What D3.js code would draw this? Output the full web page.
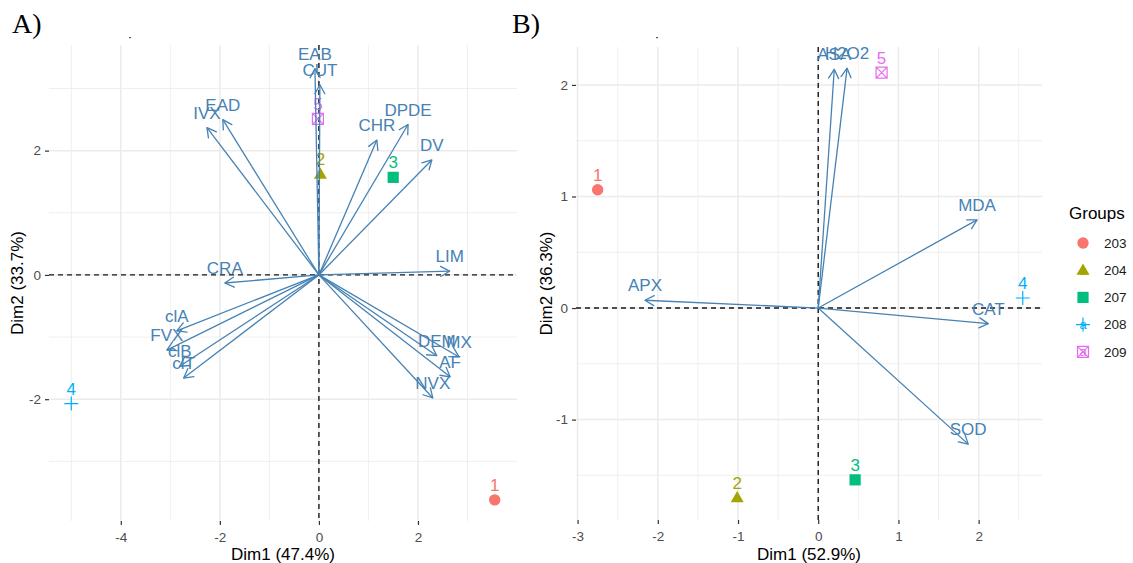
<!DOCTYPE html>
<html>
<head>
<meta charset="utf-8">
<script src="https://cdn.jsdelivr.net/npm/d3@7"></script>
<style>
  html, body { margin: 0; padding: 0; background: #fff; }
  svg { display: block; font-family: "Liberation Sans", Arial, sans-serif; }
</style>
</head>
<body>
<svg id="chart" width="1133" height="563"></svg>
<script>
// ---------- Panel A data ----------
const varNamesA = ["EAB","CUT","IVX","EAD","CHR","DPDE","DV","LIM","CRA","clA","FVX","clB","clT","DEM","MX","AF","NVX"];
const varDim1A  = [-0.08, 0.02, -2.26, -1.94, 1.17, 1.80, 2.28, 2.64, -1.90, -2.87, -3.07, -2.81, -2.73, 2.38, 2.83, 2.65, 2.30];
const varDim2A  = [3.32, 3.06, 2.37, 2.50, 2.17, 2.42, 1.85, 0.06, -0.13, -0.90, -1.21, -1.47, -1.66, -1.30, -1.32, -1.64, -1.98];
const indLabelsA = ["1","2","3","4","5"];
const indGroupsA = ["203","204","207","208","209"];
const indDim1A  = [3.55, 0.03, 1.50, -5.00, -0.02];
const indDim2A  = [-3.62, 1.62, 1.57, -2.07, 2.51];
const xTicksA = [-4, -2, 0, 2];
const xMinorA = [-5, -3, -1, 1, 3];
const yTicksA = [-2, 0, 2];
const yMinorA = [-3, -1, 1, 3];
const xTitleA = "Dim1 (47.4%)";
const yTitleA = "Dim2 (33.7%)";

// ---------- Panel B data ----------
const varNamesB = ["ASA","H2O2","MDA","APX","CAT","SOD"];
const varDim1B  = [0.20, 0.36, 1.98, -2.16, 2.12, 1.87];
const varDim2B  = [2.14, 2.15, 0.79, 0.07, -0.14, -1.22];
const indLabelsB = ["1","2","3","4","5"];
const indGroupsB = ["203","204","207","208","209"];
const indDim1B  = [-2.75, -1.01, 0.46, 2.55, 0.79];
const indDim2B  = [1.06, -1.70, -1.54, 0.09, 2.11];
const xTicksB = [-3, -2, -1, 0, 1, 2];
const xMinorB = [-2.5, -1.5, -0.5, 0.5, 1.5, 2.5];
const yTicksB = [-1, 0, 1, 2];
const yMinorB = [-1.5, -0.5, 0.5, 1.5];
const xTitleB = "Dim1 (52.9%)";
const yTitleB = "Dim2 (36.3%)";

// ---------- Legend ----------
const groups = ["203","204","207","208","209"];
const groupColors = ["#F8766D","#A3A500","#00BF7D","#00B0F6","#E76BF3"];
const groupShapes = ["circle","triangle","square","plus","squarecross"];
const legendTitle = "Groups";
const panelTags = ["A)","B)"];

const svg = d3.select("#chart");
const color = d3.scaleOrdinal().domain(groups).range(groupColors);
const shape = d3.scaleOrdinal().domain(groups).range(groupShapes);
const ARROW = "#4682B4";

const defs = svg.append("defs");
defs.append("marker")
  .attr("id","ah").attr("viewBox","-11 -7 13 14")
  .attr("refX",0).attr("refY",0)
  .attr("markerWidth",13).attr("markerHeight",14)
  .attr("markerUnits","userSpaceOnUse").attr("orient","auto")
  .append("path").attr("d","M-9,-5 L0,0 L-9,5")
  .attr("fill","none").attr("stroke",ARROW).attr("stroke-width",1.3)
  .attr("stroke-linecap","round").attr("stroke-linejoin","round");

function drawSymbol(g, type, col, cx, cy) {
  if (type === "circle") {
    g.append("circle").attr("cx",cx).attr("cy",cy).attr("r",5.7).attr("fill",col);
  } else if (type === "triangle") {
    const s = 13;
    const h = s*Math.sqrt(3)/2;
    g.append("path").attr("d",`M${cx},${cy-h*0.6} L${cx+s/2},${cy+h*0.4} L${cx-s/2},${cy+h*0.4} Z`).attr("fill",col);
  } else if (type === "square") {
    g.append("rect").attr("x",cx-5.6).attr("y",cy-5.6).attr("width",11.2).attr("height",11.2).attr("fill",col);
  } else if (type === "plus") {
    g.append("path").attr("d",`M${cx-7},${cy} L${cx+7},${cy} M${cx},${cy-7} L${cx},${cy+7}`)
      .attr("stroke",col).attr("stroke-width",1.2).attr("fill","none");
  } else if (type === "squarecross") {
    const r = 5.5;
    g.append("path").attr("d",`M${cx-r},${cy-r} L${cx+r},${cy-r} L${cx+r},${cy+r} L${cx-r},${cy+r} Z M${cx-r},${cy-r} L${cx+r},${cy+r} M${cx+r},${cy-r} L${cx-r},${cy+r}`)
      .attr("stroke",col).attr("stroke-width",1.2).attr("fill","none");
  }
}

const fmtTick = d => String(d);

function panel(cfg) {
  const x = d3.scaleLinear().domain(cfg.xDomain).range([cfg.left, cfg.right]);
  const y = d3.scaleLinear().domain(cfg.yDomain).range([cfg.bottom, cfg.top]);
  const g = svg.append("g");

  // minor grid
  g.selectAll(".vminor").data(cfg.xMinor).join("line")
    .attr("x1",d=>x(d)).attr("x2",d=>x(d)).attr("y1",cfg.top).attr("y2",cfg.bottom)
    .attr("stroke","#EBEBEB").attr("stroke-width",0.8);
  g.selectAll(".hminor").data(cfg.yMinor).join("line")
    .attr("y1",d=>y(d)).attr("y2",d=>y(d)).attr("x1",cfg.left).attr("x2",cfg.right)
    .attr("stroke","#EBEBEB").attr("stroke-width",0.8);
  // major grid
  g.selectAll(".vmajor").data(cfg.xTicks).join("line")
    .attr("x1",d=>x(d)).attr("x2",d=>x(d)).attr("y1",cfg.top).attr("y2",cfg.bottom)
    .attr("stroke","#EBEBEB").attr("stroke-width",1.5);
  g.selectAll(".hmajor").data(cfg.yTicks).join("line")
    .attr("y1",d=>y(d)).attr("y2",d=>y(d)).attr("x1",cfg.left).attr("x2",cfg.right)
    .attr("stroke","#EBEBEB").attr("stroke-width",1.5);

  // axes
  const xa = g.append("g").attr("transform",`translate(0,${cfg.bottom})`)
    .call(d3.axisBottom(x).tickValues(cfg.xTicks).tickSize(4).tickPadding(4).tickFormat(fmtTick));
  const ya = g.append("g").attr("transform",`translate(${cfg.left},0)`)
    .call(d3.axisLeft(y).tickValues(cfg.yTicks).tickSize(4).tickPadding(4).tickFormat(fmtTick));
  [xa, ya].forEach(a => {
    a.select(".domain").remove();
    a.selectAll(".tick line").attr("stroke","#333333").attr("stroke-width",1.2);
    a.selectAll(".tick text").attr("fill","#4D4D4D").style("font-size","13.5px")
      .style("font-family","'Liberation Sans', Arial, sans-serif");
  });
  xa.selectAll(".tick text").attr("dy","0.95em");

  // reference lines
  g.append("line").attr("x1",cfg.left).attr("x2",cfg.right).attr("y1",y(0)).attr("y2",y(0))
    .attr("stroke","#000").attr("stroke-width",1.4).attr("stroke-dasharray","5,4").attr("opacity",0.9);
  g.append("line").attr("x1",x(0)).attr("x2",x(0)).attr("y1",cfg.top).attr("y2",cfg.bottom)
    .attr("stroke","#000").attr("stroke-width",1.4).attr("stroke-dasharray","5,4").attr("opacity",0.9);

  // individuals
  const ind = cfg.indLabels.map((l,i)=>({label:l, group:cfg.indGroups[i], d1:cfg.indDim1[i], d2:cfg.indDim2[i]}));
  ind.forEach(p => {
    drawSymbol(g, shape(p.group), color(p.group), x(p.d1), y(p.d2));
  });
  g.selectAll(".indlab").data(ind).join("text")
    .attr("x",d=>x(d.d1)).attr("y",d=>y(d.d2)).attr("dy",-9)
    .attr("text-anchor","middle").attr("fill",d=>color(d.group))
    .style("font-size","17px").text(d=>d.label);

  // variable arrows
  const vars = cfg.varNames.map((n,i)=>({name:n, d1:cfg.varDim1[i], d2:cfg.varDim2[i]}));
  g.selectAll(".arrow").data(vars).join("line")
    .attr("x1",x(0)).attr("y1",y(0)).attr("x2",d=>x(d.d1)).attr("y2",d=>y(d.d2))
    .attr("stroke",ARROW).attr("stroke-width",1.3).attr("marker-end","url(#ah)");
  g.selectAll(".varlab").data(vars).join("text")
    .attr("x",d=>x(d.d1)).attr("y",d=>y(d.d2)).attr("dy",-9)
    .attr("text-anchor","middle").attr("fill",ARROW)
    .style("font-size","17px").text(d=>d.name);

  // axis titles
  g.append("text").attr("x",(cfg.left+cfg.right)/2).attr("y",560)
    .attr("text-anchor","middle").attr("fill","#000").style("font-size","17px").text(cfg.xTitle);
  g.append("text").attr("transform",`translate(${cfg.yTitleX},${(cfg.top+cfg.bottom)/2}) rotate(-90)`)
    .attr("text-anchor","middle").attr("dy","0.35em").attr("fill","#000").style("font-size","17px").text(cfg.yTitle);

  // panel tag
  svg.append("text").attr("x",cfg.tagX).attr("y",33).attr("fill","#000")
    .style("font-family","'Liberation Serif', 'Times New Roman', serif").style("font-size","28px").text(cfg.tag);
  // tiny remnant mark of empty title
  svg.append("rect").attr("x",cfg.dotX).attr("y",37).attr("width",2).attr("height",1.2).attr("fill","#555");
}

panel({xDomain:[-5.45,4.0], yDomain:[-3.96,3.70], left:49, right:517, top:45, bottom:521,
  xTicks:xTicksA, xMinor:xMinorA, yTicks:yTicksA, yMinor:yMinorA,
  varNames:varNamesA, varDim1:varDim1A, varDim2:varDim2A,
  indLabels:indLabelsA, indGroups:indGroupsA, indDim1:indDim1A, indDim2:indDim2A,
  xTitle:xTitleA, yTitle:yTitleA, yTitleX:17, tag:panelTags[0], tagX:12, dotX:129});

panel({xDomain:[-3.02,2.79], yDomain:[-1.90,2.34], left:576, right:1042, top:47, bottom:520,
  xTicks:xTicksB, xMinor:xMinorB, yTicks:yTicksB, yMinor:yMinorB,
  varNames:varNamesB, varDim1:varDim1B, varDim2:varDim2B,
  indLabels:indLabelsB, indGroups:indGroupsB, indDim1:indDim1B, indDim2:indDim2B,
  xTitle:xTitleB, yTitle:yTitleB, yTitleX:546, tag:panelTags[1], tagX:512, dotX:656});

// legend
const lg = svg.append("g");
lg.append("text").attr("x",1069).attr("y",219).attr("fill","#000").style("font-size","17px").text(legendTitle);
groups.forEach((gr,i) => {
  const cy = 243 + i*27.2;
  drawSymbol(lg, shape(gr), color(gr), 1083, cy);
  lg.append("text").attr("x",1083).attr("y",cy).attr("dy","0.35em").attr("text-anchor","middle")
    .attr("fill",color(gr)).style("font-size","13px").text("a");
  lg.append("text").attr("x",1104).attr("y",cy).attr("dy","0.36em").attr("fill","#1A1A1A")
    .style("font-size","13.5px").text(gr);
});
</script>
</body>
</html>
